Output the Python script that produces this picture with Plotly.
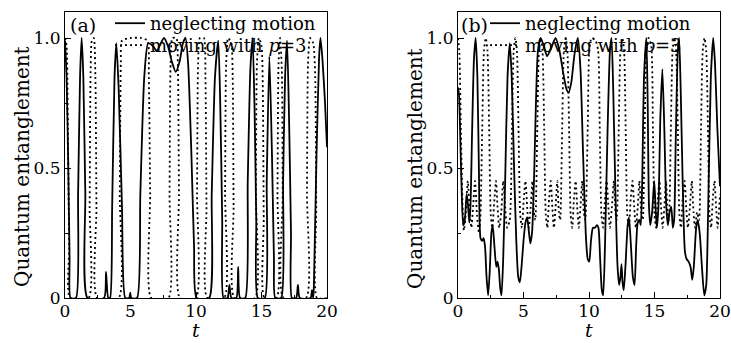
import plotly.graph_objects as go

# ---------------- data ----------------
# Panel (a): neglecting motion (solid)
t_a_solid = [0.00, 0.12, 0.25, 0.35, 0.42, 0.84, 1.00, 1.15, 1.27, 1.40, 1.55, 1.72,
             2.98, 3.13, 3.30, 3.44, 3.60, 3.78, 3.92, 4.10, 4.35, 4.60, 4.90, 4.98, 5.06,
             5.50, 5.75, 6.05, 6.35, 6.70, 7.00, 7.55, 7.85, 8.15, 8.45, 8.75, 9.00, 9.20,
             9.40, 9.65, 9.85, 10.05, 11.00, 11.20, 11.45, 11.70, 11.85, 12.00, 12.10,
             12.40, 12.55, 12.70, 13.08, 13.22, 13.36, 13.76, 13.95, 14.15, 14.32, 14.48,
             14.60, 14.72, 15.25, 15.40, 15.60, 15.80, 15.95, 16.05, 16.50, 16.65, 16.80,
             16.95, 17.10, 17.25, 17.32, 17.65, 17.78, 17.92, 18.75, 18.85, 18.95, 19.00,
             19.20, 19.40, 19.50, 19.65, 19.85, 20.00]
v_a_solid = [0.99, 0.85, 0.50, 0.15, 0.00, 0.00, 0.40, 0.85, 1.00, 0.85, 0.40, 0.00,
             0.00, 0.10, 0.00, 0.00, 0.35, 0.85, 0.98, 0.80, 0.35, 0.00, 0.00, 0.02, 0.00,
             0.00, 0.40, 0.85, 0.98, 0.97, 0.95, 1.00, 0.97, 0.91, 0.87, 0.91, 0.98, 1.00,
             0.90, 0.55, 0.20, 0.00, 0.00, 0.40, 0.85, 0.99, 0.75, 0.30, 0.00,
             0.00, 0.05, 0.00, 0.00, 0.12, 0.00, 0.00, 0.45, 0.88, 1.00, 0.70,
             0.30, 0.00, 0.00, 0.45, 0.93, 0.55, 0.15, 0.00, 0.00, 0.45, 0.85,
             0.99, 0.70, 0.25, 0.00, 0.00, 0.05, 0.00, 0.00, 0.03, 0.00, 0.05,
             0.55, 0.93, 1.00, 0.92, 0.75, 0.58]

# Panel (a): moving with p=3 (dotted)
t_a_dot = [0.00, 0.12, 0.22, 0.32, 0.38, 1.80, 1.88, 1.95, 2.05, 2.20, 2.32, 2.40, 2.46,
           4.10, 4.18, 4.26, 4.35, 5.00, 5.80, 6.30, 6.40, 6.50, 6.58, 7.90, 7.98, 8.06,
           8.20, 8.50, 8.62, 8.70, 8.77, 10.00, 10.08, 10.16, 10.30, 10.60, 10.72, 10.80,
           10.86, 12.15, 12.22, 12.30, 12.45, 12.70, 12.80, 12.87, 12.93, 14.50, 14.57,
           14.65, 14.80, 15.00, 15.10, 15.17, 15.22, 16.15, 16.22, 16.30, 16.42, 16.55,
           16.62, 16.68, 18.40, 18.47, 18.55, 18.70, 18.95, 19.10, 19.18, 19.24, 20.00]
v_a_dot = [1.00, 0.97, 0.65, 0.20, 0.00, 0.00, 0.35, 0.85, 0.99, 1.00, 0.85, 0.35, 0.00,
           0.00, 0.40, 0.90, 0.99, 1.00, 1.00, 0.99, 0.85, 0.40, 0.00, 0.00, 0.40, 0.90,
           1.00, 1.00, 0.88, 0.40, 0.00, 0.00, 0.40, 0.90, 1.00, 1.00, 0.85, 0.35,
           0.00, 0.00, 0.40, 0.90, 1.00, 0.98, 0.85, 0.35, 0.00, 0.00, 0.40,
           0.90, 1.00, 0.97, 0.80, 0.30, 0.00, 0.00, 0.40, 0.90, 1.00, 0.88,
           0.40, 0.00, 0.00, 0.40, 0.90, 1.00, 0.98, 0.85, 0.35, 0.00, 0.00]

# Panel (b): neglecting motion (solid)
t_b_solid = [0.00, 0.08, 0.18, 0.30, 0.40, 0.52, 0.66, 0.76, 0.86, 0.95, 1.08, 1.22, 1.35,
             1.48, 1.60, 1.72, 1.85, 1.95, 2.06, 2.18, 2.30, 2.42, 2.55, 2.65, 2.78, 2.92,
             3.02, 3.12, 3.22, 3.32, 3.45, 3.60, 3.78, 3.95, 4.10, 4.28, 4.45, 4.60, 4.72,
             4.85, 5.00, 5.15, 5.28, 5.40, 5.52, 5.65, 5.80, 5.95, 6.10, 6.30, 6.55, 6.80,
             7.10, 7.45, 7.75, 8.05, 8.30, 8.45, 8.65, 8.90, 9.15, 9.35, 9.55, 9.75, 9.90,
             10.02, 10.15, 10.30, 10.45, 10.60, 10.72, 10.85, 10.98, 11.08, 11.22, 11.42,
             11.60, 11.72, 11.85, 12.02, 12.18, 12.30, 12.40, 12.48, 12.56, 12.65, 12.78,
             12.95, 13.05, 13.18, 13.35, 13.48, 13.60, 13.72, 13.85, 13.95, 14.05, 14.20,
             14.38, 14.48, 14.58, 14.68, 14.82, 14.98, 15.08, 15.18, 15.30, 15.45, 15.60,
             15.75, 15.90, 16.02, 16.15, 16.28, 16.40, 16.50, 16.62, 16.78, 16.88, 17.00,
             17.15, 17.32, 17.45, 17.60, 17.75, 17.88, 18.00, 18.18, 18.30, 18.45, 18.62,
             18.80, 18.95, 19.10, 19.30, 19.48, 19.62, 19.80, 20.00]
v_b_solid = [0.81, 0.78, 0.60, 0.38, 0.28, 0.30, 0.40, 0.36, 0.29, 0.35, 0.65, 0.92, 1.00,
             0.85, 0.48, 0.23, 0.22, 0.23, 0.20, 0.08, 0.01, 0.10, 0.25, 0.28, 0.20, 0.12,
             0.14, 0.11, 0.04, 0.01, 0.15, 0.45, 0.85, 0.98, 0.85, 0.50, 0.22, 0.08, 0.06,
             0.12, 0.22, 0.29, 0.31, 0.26, 0.21, 0.25, 0.45, 0.75, 0.95, 1.00, 0.97, 0.93,
             0.96, 1.00, 0.95, 0.86, 0.80, 0.79, 0.83, 0.94, 1.00, 0.88, 0.55, 0.25, 0.15,
             0.14, 0.22, 0.27, 0.27, 0.28, 0.27, 0.15, 0.03, 0.01, 0.20, 0.65,
             0.95, 1.00, 0.80, 0.40, 0.12, 0.05, 0.08, 0.13, 0.06, 0.03, 0.12,
             0.28, 0.31, 0.22, 0.08, 0.05, 0.20, 0.29, 0.30, 0.28, 0.42, 0.85,
             1.00, 0.75, 0.35, 0.28, 0.33, 0.45, 0.35, 0.27, 0.35, 0.70, 0.88,
             0.65, 0.35, 0.28, 0.33, 0.35, 0.27, 0.30, 0.60, 0.95, 1.00, 0.80,
             0.45, 0.18, 0.15, 0.14, 0.12, 0.07, 0.12, 0.27, 0.30, 0.25, 0.12,
             0.01, 0.05, 0.35, 0.85, 1.00, 0.90, 0.65, 0.43]

# Panel (b): moving with p=3 (dotted)
t_b_dot = [0.00, 0.10, 0.22, 0.35, 0.45, 0.60, 0.75, 0.90, 1.02, 1.15, 1.30, 1.45, 1.60,
           1.70, 1.85, 1.98, 2.12, 2.25, 2.38, 2.50, 2.62, 2.78, 2.90, 3.02, 3.15, 3.30,
           3.45, 3.60, 3.75, 3.95, 4.12, 4.25, 4.38, 4.50, 4.62, 4.75, 4.88, 5.02, 5.15,
           5.28, 5.40, 5.55, 5.68, 5.80, 5.90, 6.05, 6.18, 6.32, 6.45, 6.58, 6.70, 6.82,
           6.95, 7.08, 7.20, 7.32, 7.45, 7.58, 7.70, 7.80, 7.95, 8.08, 8.22, 8.35, 8.48,
           8.60, 8.72, 8.85, 8.98, 9.10, 9.22, 9.35, 9.48, 9.60, 9.72, 9.90, 10.02, 10.20,
           10.50, 10.70, 10.82, 10.95, 11.08, 11.22, 11.35, 11.48, 11.60, 11.75, 11.90,
           12.02, 12.12, 12.27, 12.40, 12.55, 12.68, 12.80, 12.92, 13.05, 13.18, 13.32,
           13.45, 13.58, 13.72, 13.85, 13.98, 14.10, 14.25, 14.38, 14.55, 14.75, 14.88,
           15.00, 15.12, 15.25, 15.38, 15.50, 15.62, 15.75, 15.88, 16.00, 16.10, 16.25,
           16.38, 16.52, 16.65, 16.78, 16.90, 17.02, 17.15, 17.30, 17.42, 17.55, 17.70,
           17.85, 17.98, 18.10, 18.25, 18.40, 18.55, 18.68, 18.82, 18.95, 19.08, 19.20,
           19.32, 19.45, 19.58, 19.70, 19.82, 20.00]
v_b_dot = [1.00, 0.95, 0.65, 0.35, 0.26, 0.33, 0.45, 0.33, 0.27, 0.35, 0.45, 0.32, 0.25,
           0.30, 0.65, 0.95, 1.00, 0.95, 0.65, 0.32, 0.27, 0.38, 0.45, 0.35, 0.27, 0.33,
           0.45, 0.35, 0.27, 0.30, 0.65, 0.95, 1.00, 0.95, 0.65, 0.32, 0.27, 0.38, 0.45,
           0.35, 0.27, 0.35, 0.45, 0.33, 0.30, 0.65, 0.95, 1.00, 0.95, 0.65, 0.32, 0.27,
           0.38, 0.45, 0.35, 0.27, 0.35, 0.45, 0.33, 0.30, 0.65, 0.95, 1.00, 0.95, 0.65,
           0.32, 0.27, 0.38, 0.45, 0.35, 0.27, 0.35, 0.45, 0.33, 0.30, 0.65, 0.95, 1.00,
           0.99, 0.95, 0.65, 0.32, 0.27, 0.38, 0.45, 0.35, 0.27, 0.35, 0.45,
           0.33, 0.30, 0.65, 0.95, 1.00, 0.95, 0.65, 0.32, 0.27, 0.38, 0.45,
           0.35, 0.27, 0.35, 0.45, 0.33, 0.30, 0.65, 0.95, 1.00, 0.97, 0.65,
           0.32, 0.27, 0.38, 0.45, 0.35, 0.27, 0.35, 0.45, 0.33, 0.30, 0.65,
           0.95, 1.00, 0.95, 0.65, 0.32, 0.27, 0.38, 0.45, 0.35, 0.27, 0.35,
           0.45, 0.33, 0.27, 0.33, 0.30, 0.65, 0.95, 1.00, 0.95, 0.65, 0.32,
           0.27, 0.38, 0.45, 0.35, 0.27, 0.40]

x_ticks = [0, 5, 10, 15, 20]
y_ticks = [0, 0.5, 1.0]
y_tick_text = ["0", "0.5", "1.0"]
name_solid = "neglecting motion"
name_dot = "moving with <i>p</i>=3"

# ---------------- figure ----------------
W, H = 731, 343
FONT = "DejaVu Serif"

fig = go.Figure()

solid_line = dict(color="black", width=1.8, shape="spline", smoothing=0.6)
dot_line = dict(color="black", width=1.8, dash="2px,3px", shape="spline", smoothing=0.6)

# one legend per row so that the row spacing can match the reference
fig.add_trace(go.Scatter(x=t_a_solid, y=v_a_solid, mode="lines", name=name_solid,
                         line=solid_line, xaxis="x", yaxis="y", legend="legend"))
fig.add_trace(go.Scatter(x=t_a_dot, y=v_a_dot, mode="lines", name=name_dot,
                         line=dot_line, xaxis="x", yaxis="y", legend="legend3"))
fig.add_trace(go.Scatter(x=t_b_solid, y=v_b_solid, mode="lines", name=name_solid,
                         line=solid_line, xaxis="x2", yaxis="y2", legend="legend2"))
fig.add_trace(go.Scatter(x=t_b_dot, y=v_b_dot, mode="lines", name=name_dot,
                         line=dot_line, xaxis="x2", yaxis="y2", legend="legend4"))

def px(x):
    return x / W

def py(y):
    return 1 - y / H

ydom = [py(298), py(12)]
axis_common = dict(showline=True, linecolor="black", linewidth=1.2, mirror=True,
                   ticks="inside", ticklen=6, tickwidth=1.2, tickcolor="black",
                   showgrid=False, zeroline=False, automargin=False,
                   tickfont=dict(family=FONT, size=17, color="black"))

def legend_at(xpix, ypix):
    return dict(x=px(xpix), y=py(ypix), xanchor="left", yanchor="top",
                bgcolor="rgba(0,0,0,0)", borderwidth=0, tracegroupgap=0,
                font=dict(family=FONT, size=18, color="black"))

fig.update_layout(
    autosize=True,
    margin=dict(l=0, r=0, t=0, b=0, autoexpand=False),
    paper_bgcolor="white", plot_bgcolor="white",
    font=dict(family=FONT, color="black"),
    xaxis=dict(domain=[px(65), px(327)], range=[0, 20], tickvals=x_ticks,
               ticklabelstandoff=-3,
               minor=dict(ticks="inside", ticklen=3, dtick=2.5, tickcolor="black"),
               anchor="y", **axis_common),
    yaxis=dict(domain=ydom, range=[0, 1.1], tickvals=y_ticks, ticktext=y_tick_text,
               minor=dict(ticks="inside", ticklen=3, dtick=0.25, tickcolor="black"),
               anchor="x", **axis_common),
    xaxis2=dict(domain=[px(458), px(720)], range=[0, 20], tickvals=x_ticks,
                ticklabelstandoff=-3,
                minor=dict(ticks="inside", ticklen=3, dtick=2.5, tickcolor="black"),
                anchor="y2", **axis_common),
    yaxis2=dict(domain=ydom, range=[0, 1.1], tickvals=y_ticks, ticktext=y_tick_text,
                minor=dict(ticks="inside", ticklen=3, dtick=0.25, tickcolor="black"),
                anchor="x2", **axis_common),
    legend=legend_at(110, 5),
    legend3=legend_at(110, 27),
    legend2=legend_at(485, 5),
    legend4=legend_at(485, 27),
    showlegend=True,
)

annotations = [
    dict(text="(a)", x=px(83), y=py(25), showarrow=False, font=dict(size=19)),
    dict(text="(b)", x=px(474), y=py(25), showarrow=False, font=dict(size=19)),
    dict(text="Quantum entanglement", x=px(22), y=py(167), textangle=-90,
         showarrow=False, font=dict(size=20)),
    dict(text="Quantum entanglement", x=px(415), y=py(168), textangle=-90,
         showarrow=False, font=dict(size=20)),
]
for a in annotations:
    a.update(xanchor="center", yanchor="middle")
for xc in (196, 589):
    annotations.append(dict(text="<i>t</i>", x=px(xc), y=0, showarrow=False,
                            xanchor="center", yanchor="bottom", font=dict(size=19)))
for a in annotations:
    a.update(xref="paper", yref="paper")
    a["font"].update(family=FONT, color="black")
fig.update_layout(annotations=annotations)

# The graph div is pinned to the page's top-left corner so the page is exactly
# 731x343 (no default body margin around it).
fig.write_html("out.html",
               config={"displayModeBar": False},
               default_width=f"{W}px",
               default_height=f"{H}px; position:absolute; left:0; top:0")
